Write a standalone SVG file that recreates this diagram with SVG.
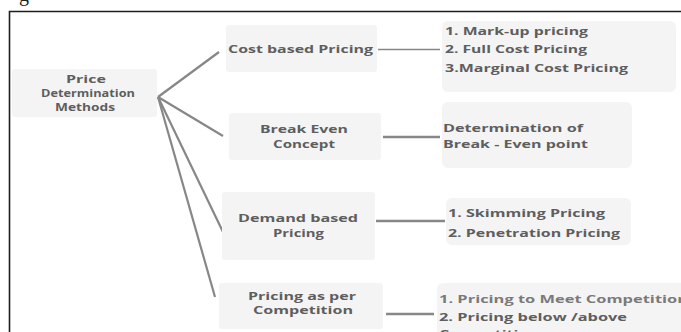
<svg xmlns="http://www.w3.org/2000/svg" width="681" height="332" viewBox="0 0 681 332">
<style>
.box{fill:#f4f4f4}
.t{font-family:"Open Sans","Liberation Sans",sans-serif;font-weight:700;font-size:11px;fill:#5e5e5e}
.c{text-anchor:middle}
.ln{stroke:#878787;stroke-width:2.2;fill:none;stroke-linecap:butt}
.fr{stroke:#1e1e1e;stroke-width:1.6;fill:none}
</style>
<rect width="681" height="332" fill="#ffffff"/>
<text x="19" y="0.5" font-family="Liberation Serif,serif" font-size="20" fill="#222">g</text>
<path class="fr" d="M9.5 332 V11.5 H681"/>
<g id="connectors">
<line class="ln" x1="158" y1="97" x2="219" y2="52"/>
<line class="ln" x1="158" y1="97" x2="223" y2="136"/>
<line class="ln" x1="158" y1="97" x2="223" y2="232"/>
<line class="ln" x1="158" y1="97" x2="215" y2="297"/>
<line class="ln" x1="378" y1="49.5" x2="440" y2="49.5" style="stroke-width:1.6"/>
<line class="ln" x1="383" y1="137" x2="440" y2="137" style="stroke-width:2.6"/>
<line class="ln" x1="376" y1="221" x2="445" y2="221" style="stroke-width:2.6"/>
<line class="ln" x1="386" y1="314" x2="434" y2="314" style="stroke-width:2.6"/>
</g>
<g id="root">
<rect class="box" x="12" y="69" width="145" height="48" rx="3"/>
<text class="t c" x="86" y="83" textLength="40" lengthAdjust="spacingAndGlyphs">Price</text>
<text class="t c" x="88" y="97" textLength="94" lengthAdjust="spacingAndGlyphs">Determination</text>
<text class="t c" x="85" y="111" textLength="60" lengthAdjust="spacingAndGlyphs">Methods</text>
</g>
<g id="cost">
<rect class="box" x="226" y="25" width="151" height="47" rx="3"/>
<text class="t" x="228" y="53" textLength="145" lengthAdjust="spacingAndGlyphs">Cost based Pricing</text>
</g>
<g id="cost-list">
<rect class="box" x="442" y="21" width="234" height="71" rx="6"/>
<text class="t" x="445" y="35" textLength="143" lengthAdjust="spacingAndGlyphs">1. Mark-up pricing</text>
<text class="t" x="445" y="53" textLength="142" lengthAdjust="spacingAndGlyphs">2. Full Cost Pricing</text>
<text class="t" x="445" y="72" textLength="183" lengthAdjust="spacingAndGlyphs">3.Marginal Cost Pricing</text>
</g>
<g id="breakeven">
<rect class="box" x="229" y="113" width="152" height="47" rx="3"/>
<text class="t" x="260" y="133" textLength="88" lengthAdjust="spacingAndGlyphs">Break Even</text>
<text class="t" x="273" y="148" textLength="62" lengthAdjust="spacingAndGlyphs">Concept</text>
</g>
<g id="breakeven-detail">
<rect class="box" x="442" y="102" width="190" height="66" rx="6"/>
<text class="t" x="443" y="132" textLength="140" lengthAdjust="spacingAndGlyphs">Determination of</text>
<text class="t" x="443" y="148" textLength="145" lengthAdjust="spacingAndGlyphs">Break - Even point</text>
</g>
<g id="demand">
<rect class="box" x="222" y="192" width="153" height="68" rx="3"/>
<text class="t" x="238" y="222" textLength="120" lengthAdjust="spacingAndGlyphs">Demand based</text>
<text class="t" x="273" y="237" textLength="51" lengthAdjust="spacingAndGlyphs">Pricing</text>
</g>
<g id="demand-list">
<rect class="box" x="446" y="198" width="185" height="47" rx="6"/>
<text class="t" x="448" y="217" textLength="157" lengthAdjust="spacingAndGlyphs">1. Skimming Pricing</text>
<text class="t" x="448" y="237" textLength="172" lengthAdjust="spacingAndGlyphs">2. Penetration Pricing</text>
</g>
<g id="competition">
<rect class="box" x="219" y="283" width="164" height="46" rx="3"/>
<text class="t" x="248" y="300" textLength="108" lengthAdjust="spacingAndGlyphs">Pricing as per</text>
<text class="t" x="253" y="314" textLength="100" lengthAdjust="spacingAndGlyphs">Competition</text>
</g>
<g id="competition-list">
<rect class="box" x="437" y="283" width="260" height="70" rx="6"/>
<text class="t" x="439" y="303" textLength="249" lengthAdjust="spacingAndGlyphs" style="fill:#7a7a7a">1. Pricing to Meet Competition</text>
<text class="t" x="439" y="321" textLength="188" lengthAdjust="spacingAndGlyphs">2. Pricing below /above</text>
<text class="t" x="439" y="338" textLength="100" lengthAdjust="spacingAndGlyphs">Competition</text>
</g>
</svg>
